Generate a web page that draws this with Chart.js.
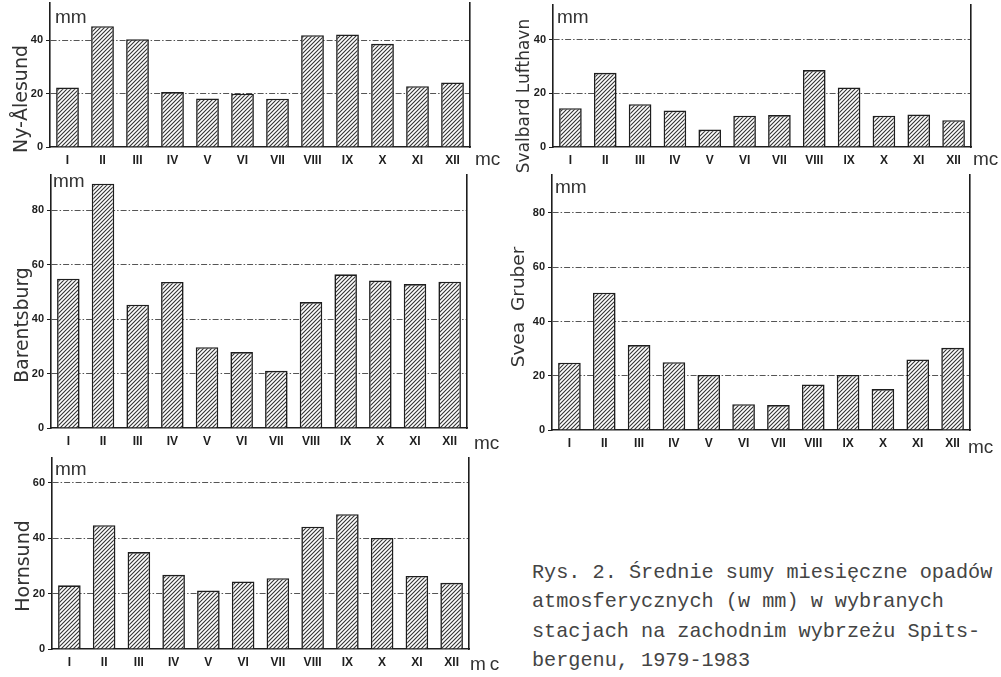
<!DOCTYPE html>
<html>
<head>
<meta charset="utf-8">
<script src="https://cdn.jsdelivr.net/npm/chart.js@4.4.1/dist/chart.umd.min.js"></script>
<style>
  html, body { margin:0; padding:0; background:#fff; }
  #wrap { position:relative; width:1001px; height:677px; overflow:hidden; background:#fff; }
  canvas { position:absolute; }
  .st { position:absolute; font-family:"DejaVu Sans", sans-serif; color:#333; white-space:nowrap;
        transform:translate(-50%,-50%) rotate(-90deg); line-height:1; }
  .u { position:absolute; font-family:"Liberation Sans", Arial, sans-serif; font-size:19px; line-height:19px; color:#333; white-space:nowrap; }
  #cap { position:absolute; left:532px; top:558px; font-family:"Liberation Mono", "Courier New", monospace;
         font-size:20.2px; line-height:29.3px; color:#444; white-space:pre; }
</style>
</head>
<body>
<div id="wrap">
  <canvas id="c1"></canvas>
  <canvas id="c2"></canvas>
  <canvas id="c3"></canvas>
  <canvas id="c4"></canvas>
  <canvas id="c5"></canvas>

  <div class="st" style="left:20px;top:99px;font-size:19px;">Ny-Ålesund</div>
  <div class="st" style="left:523px;top:96px;font-size:17px;">Svalbard Lufthavn</div>
  <div class="st" style="left:22px;top:325px;font-size:18.8px;">Barentsburg</div>
  <div class="st" style="left:518px;top:307px;font-size:18.5px;word-spacing:5px;">Svea Gruber</div>
  <div class="st" style="left:22px;top:566px;font-size:19px;">Hornsund</div>

  <div class="u" style="left:55px;top:7px;">mm</div>
  <div class="u" style="left:557px;top:7px;">mm</div>
  <div class="u" style="left:53px;top:171px;">mm</div>
  <div class="u" style="left:555px;top:177px;">mm</div>
  <div class="u" style="left:55px;top:459px;">mm</div>

  <div class="u" style="left:475px;top:149px;">mc</div>
  <div class="u" style="left:973px;top:149px;">mc</div>
  <div class="u" style="left:474px;top:433px;">mc</div>
  <div class="u" style="left:968px;top:437px;">mc</div>
  <div class="u" style="left:470px;top:654px;letter-spacing:4px;">mc</div>

  <div id="cap">Rys. 2. Średnie sumy miesięczne opadów
atmosferycznych (w mm) w wybranych
stacjach na zachodnim wybrzeżu Spits-
bergenu, 1979-1983</div>
</div>

<script>
// ---- data (mm, monthly mean precipitation 1979-1983) ----
const months = ['I','II','III','IV','V','VI','VII','VIII','IX','X','XI','XII'];
const nyAlesund        = [22.3, 45.3, 40.4, 20.6, 18.2, 20.0, 18.1, 41.9, 42.2, 38.7, 22.8, 24.2];
const svalbardLufthavn = [14.5, 27.7, 16.0, 13.6, 6.5, 11.7, 11.9, 28.7, 22.2, 11.7, 12.1, 10.0];
const barentsburg      = [54.9, 89.8, 45.3, 53.7, 29.7, 27.9, 21.0, 46.3, 56.5, 54.2, 52.9, 53.8];
const sveaGruber       = [24.8, 50.6, 31.3, 25.0, 20.3, 9.5, 9.2, 16.8, 20.3, 15.1, 26.0, 30.3];
const hornsund         = [23.0, 44.7, 35.0, 26.8, 21.1, 24.4, 25.6, 44.2, 48.7, 40.1, 26.4, 23.9];
const yStep = 20;

function hatch() {
  const s = 4;
  const c = document.createElement('canvas');
  c.width = s; c.height = s;
  const g = c.getContext('2d');
  g.fillStyle = '#fff'; g.fillRect(0, 0, s, s);
  g.strokeStyle = '#333'; g.lineWidth = 1.1;
  g.beginPath();
  g.moveTo(0, s); g.lineTo(s, 0);
  g.moveTo(-1, 1); g.lineTo(1, -1);
  g.moveTo(s - 1, s + 1); g.lineTo(s + 1, s - 1);
  g.stroke();
  return g.createPattern(c, 'repeat');
}

function panel(id, values, box) {
  const cv = document.getElementById(id);
  cv.style.left = box.x + 'px'; cv.style.top = box.y + 'px';
  cv.width = box.w; cv.height = box.h;
  const ink = '#1e1e1e';
  const tickFont = { family: 'Liberation Sans, Arial, sans-serif', size: 11, weight: 'bold' };
  return new Chart(cv, {
    type: 'bar',
    data: {
      labels: months,
      datasets: [{
        data: values,
        backgroundColor: hatch(),
        borderColor: ink,
        borderWidth: 1.6,
        categoryPercentage: 1,
        barPercentage: 0.65
      }]
    },
    options: {
      responsive: false,
      animation: false,
      devicePixelRatio: 1,
      layout: { padding: { top: box.padTop, left: 0, right: 0, bottom: 0 } },
      plugins: { legend: { display: false }, tooltip: { enabled: false } },
      scales: {
        x: {
          offset: true,
          grid: { display: false, drawTicks: false },
          border: { display: true, color: ink, width: 1.6 },
          ticks: { font: { family: 'Liberation Sans, Arial, sans-serif', size: 12, weight: 'bold' }, color: ink,
                   padding: 6, maxRotation: 0, autoSkip: false },
          afterFit(s) { s.height = box.xH; s.paddingLeft = 0; s.paddingRight = 0; }
        },
        y: {
          min: 0, max: box.max,
          ticks: { stepSize: yStep, includeBounds: false, font: tickFont, color: ink, padding: 3,
                   callback: v => (v % yStep === 0 ? String(v) : '') },
          grid: {
            color: c => (c.tick && c.tick.value === 0) ? 'rgba(0,0,0,0)' : '#555',
            lineWidth: 1, drawTicks: true, tickLength: 4, tickColor: ink, tickWidth: 1
          },
          border: { display: true, color: ink, width: 1.6, dash: [6, 2, 1.5, 2] },
          afterFit(s) { s.width = box.leftW; s.paddingTop = 0; s.paddingBottom = 0; }
        },
        y1: {
          display: true, position: 'right', min: 0, max: box.max,
          ticks: { display: false },
          grid: { drawOnChartArea: false, drawTicks: false },
          border: { display: true, color: ink, width: 1.6 },
          afterFit(s) { s.width = box.rightW; s.paddingTop = 0; s.paddingBottom = 0; }
        }
      }
    }
  });
}

panel('c1', nyAlesund,        { x: 0,   y: 0,   w: 500, h: 172, leftW: 50, rightW: 30, xH: 25, padTop: 3, max: 54 });
panel('c2', svalbardLufthavn, { x: 500, y: 0,   w: 501, h: 172, leftW: 53, rightW: 30, xH: 25, padTop: 5, max: 53 });
panel('c3', barentsburg,      { x: 0,   y: 172, w: 500, h: 278, leftW: 51, rightW: 33, xH: 22, padTop: 3, max: 93 });
panel('c4', sveaGruber,       { x: 500, y: 172, w: 501, h: 278, leftW: 52, rightW: 31, xH: 20, padTop: 3, max: 94 });
panel('c5', hornsund,         { x: 0,   y: 450, w: 500, h: 227, leftW: 52, rightW: 31, xH: 28, padTop: 8, max: 69 });
</script>
</body>
</html>
